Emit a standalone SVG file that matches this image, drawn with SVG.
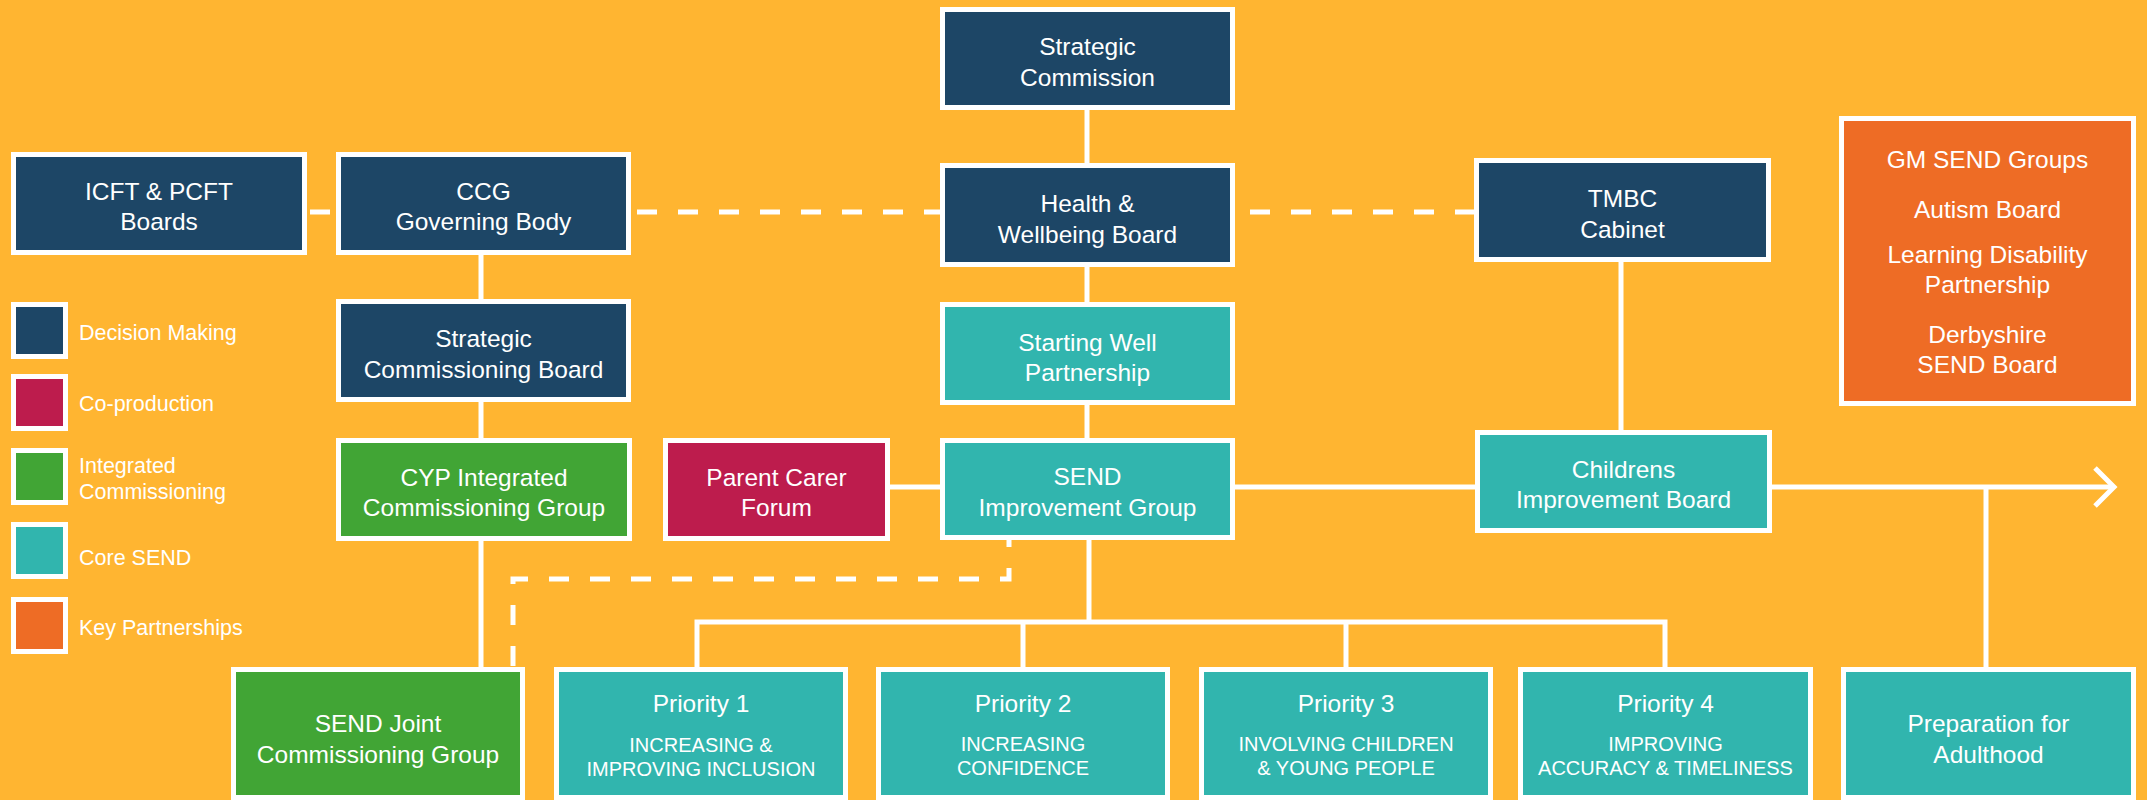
<svg xmlns="http://www.w3.org/2000/svg" width="2147" height="800" viewBox="0 0 2147 800">
<defs>
<style>
.bx{stroke:#FFFFFF;stroke-width:5}
.dm{fill:#1D4666}
.cp{fill:#BD1C4D}
.ic{fill:#41A535}
.cs{fill:#31B5AE}
.kp{fill:#EE6C25}
.t{font-family:"Liberation Sans",Arial,Helvetica,sans-serif;font-size:24.5px;fill:#FFFFFF;text-anchor:middle}
.s{font-family:"Liberation Sans",Arial,Helvetica,sans-serif;font-size:20px;fill:#FFFFFF;text-anchor:middle}
.lg{font-family:"Liberation Sans",Arial,Helvetica,sans-serif;font-size:21.5px;fill:#FFFFFF}
.ln{stroke:#FFFFFF;stroke-width:5;fill:none}
.dl{stroke:#FFFFFF;stroke-width:5;fill:none;stroke-dasharray:20 21}
</style>
</defs>
<rect x="0" y="0" width="2147" height="800" fill="#FFB531"/>
<g id="connectors">
<line class="ln" x1="1087" y1="110" x2="1087" y2="163"/>
<line class="ln" x1="1087" y1="267" x2="1087" y2="302"/>
<line class="ln" x1="1087" y1="405" x2="1087" y2="438"/>
<line class="ln" x1="481" y1="255" x2="481" y2="299"/>
<line class="ln" x1="481" y1="402" x2="481" y2="438"/>
<line class="ln" x1="481" y1="541" x2="481" y2="667"/>
<line class="dl" x1="310" y1="212" x2="333" y2="212"/>
<line class="dl" x1="637" y1="212" x2="940" y2="212"/>
<line class="dl" x1="1250" y1="212" x2="1475" y2="212"/>
<line class="ln" x1="890" y1="487" x2="940" y2="487"/>
<line class="ln" x1="1235" y1="487" x2="1475" y2="487"/>
<line class="ln" x1="1772" y1="487" x2="2112" y2="487"/>
<polyline class="ln" points="2095,468 2114,487 2095,506"/>
<line class="ln" x1="1986" y1="487" x2="1986" y2="667"/>
<line class="ln" x1="1621" y1="262" x2="1621" y2="430"/>
<line class="ln" x1="1089" y1="540" x2="1089" y2="622"/>
<polyline class="ln" points="697,667 697,622 1665,622 1665,667"/>
<line class="ln" x1="1023" y1="622" x2="1023" y2="667"/>
<line class="ln" x1="1346" y1="622" x2="1346" y2="667"/>
<path class="dl" d="M1009,540 V579 H513 V667" stroke-dashoffset="13"/>
</g>
<g id="legend">
<rect class="bx dm" x="13.5" y="304.5" width="52" height="52"/>
<text class="lg" x="79" y="340">Decision Making</text>
<rect class="bx cp" x="13.5" y="376.5" width="52" height="52"/>
<text class="lg" x="79" y="411">Co-production</text>
<rect class="bx ic" x="13.5" y="450.5" width="52" height="52"/>
<text class="lg" x="79" y="473">Integrated</text>
<text class="lg" x="79" y="499">Commissioning</text>
<rect class="bx cs" x="13.5" y="524.5" width="52" height="52"/>
<text class="lg" x="79" y="565">Core SEND</text>
<rect class="bx kp" x="13.5" y="599.5" width="52" height="52"/>
<text class="lg" x="79" y="635">Key Partnerships</text>
</g>
<g id="strategic-commission">
<rect class="bx dm" x="942.5" y="9.5" width="290" height="98"/>
<text class="t" x="1087.5" y="55">Strategic</text>
<text class="t" x="1087.5" y="86">Commission</text>
</g>
<g id="icft-pcft">
<rect class="bx dm" x="13.5" y="154.5" width="291" height="98"/>
<text class="t" x="159" y="200">ICFT &amp; PCFT</text>
<text class="t" x="159" y="230">Boards</text>
</g>
<g id="ccg">
<rect class="bx dm" x="338.5" y="154.5" width="290" height="98"/>
<text class="t" x="483.5" y="200">CCG</text>
<text class="t" x="483.5" y="230">Governing Body</text>
</g>
<g id="health-wellbeing">
<rect class="bx dm" x="942.5" y="165.5" width="290" height="99"/>
<text class="t" x="1087.5" y="212">Health &amp;</text>
<text class="t" x="1087.5" y="243">Wellbeing Board</text>
</g>
<g id="tmbc">
<rect class="bx dm" x="1476.5" y="160.5" width="292" height="99"/>
<text class="t" x="1622.5" y="207">TMBC</text>
<text class="t" x="1622.5" y="238">Cabinet</text>
</g>
<g id="gm-send">
<rect class="bx kp" x="1841.5" y="118.5" width="292" height="285"/>
<text class="t" x="1987.5" y="168">GM SEND Groups</text>
<text class="t" x="1987.5" y="218">Autism Board</text>
<text class="t" x="1987.5" y="263">Learning Disability</text>
<text class="t" x="1987.5" y="293">Partnership</text>
<text class="t" x="1987.5" y="343">Derbyshire</text>
<text class="t" x="1987.5" y="373">SEND Board</text>
</g>
<g id="strategic-commissioning-board">
<rect class="bx dm" x="338.5" y="301.5" width="290" height="98"/>
<text class="t" x="483.5" y="347">Strategic</text>
<text class="t" x="483.5" y="378">Commissioning Board</text>
</g>
<g id="starting-well">
<rect class="bx cs" x="942.5" y="304.5" width="290" height="98"/>
<text class="t" x="1087.5" y="351">Starting Well</text>
<text class="t" x="1087.5" y="381">Partnership</text>
</g>
<g id="cyp">
<rect class="bx ic" x="338.5" y="440.5" width="291" height="98"/>
<text class="t" x="484" y="486">CYP Integrated</text>
<text class="t" x="484" y="516">Commissioning Group</text>
</g>
<g id="parent-carer">
<rect class="bx cp" x="665.5" y="440.5" width="222" height="98"/>
<text class="t" x="776.5" y="486">Parent Carer</text>
<text class="t" x="776.5" y="516">Forum</text>
</g>
<g id="send-improvement">
<rect class="bx cs" x="942.5" y="440.5" width="290" height="97"/>
<text class="t" x="1087.5" y="485">SEND</text>
<text class="t" x="1087.5" y="516">Improvement Group</text>
</g>
<g id="childrens-improvement">
<rect class="bx cs" x="1477.5" y="432.5" width="292" height="98"/>
<text class="t" x="1623.5" y="478">Childrens</text>
<text class="t" x="1623.5" y="508">Improvement Board</text>
</g>
<g id="send-joint">
<rect class="bx ic" x="233.5" y="669.5" width="289" height="128"/>
<text class="t" x="378" y="732">SEND Joint</text>
<text class="t" x="378" y="763">Commissioning Group</text>
</g>
<g id="priority-1">
<rect class="bx cs" x="556.5" y="669.5" width="289" height="128"/>
<text class="t" x="701" y="712">Priority 1</text>
<text class="s" x="701" y="752">INCREASING &amp;</text>
<text class="s" x="701" y="776">IMPROVING INCLUSION</text>
</g>
<g id="priority-2">
<rect class="bx cs" x="878.5" y="669.5" width="289" height="128"/>
<text class="t" x="1023" y="712">Priority 2</text>
<text class="s" x="1023" y="751">INCREASING</text>
<text class="s" x="1023" y="775">CONFIDENCE</text>
</g>
<g id="priority-3">
<rect class="bx cs" x="1201.5" y="669.5" width="289" height="128"/>
<text class="t" x="1346" y="712">Priority 3</text>
<text class="s" x="1346" y="751">INVOLVING CHILDREN</text>
<text class="s" x="1346" y="775">&amp; YOUNG PEOPLE</text>
</g>
<g id="priority-4">
<rect class="bx cs" x="1520.5" y="669.5" width="290" height="128"/>
<text class="t" x="1665.5" y="712">Priority 4</text>
<text class="s" x="1665.5" y="751">IMPROVING</text>
<text class="s" x="1665.5" y="775">ACCURACY &amp; TIMELINESS</text>
</g>
<g id="preparation-adulthood">
<rect class="bx cs" x="1843.5" y="669.5" width="290" height="128"/>
<text class="t" x="1988.5" y="732">Preparation for</text>
<text class="t" x="1988.5" y="763">Adulthood</text>
</g>
</svg>
